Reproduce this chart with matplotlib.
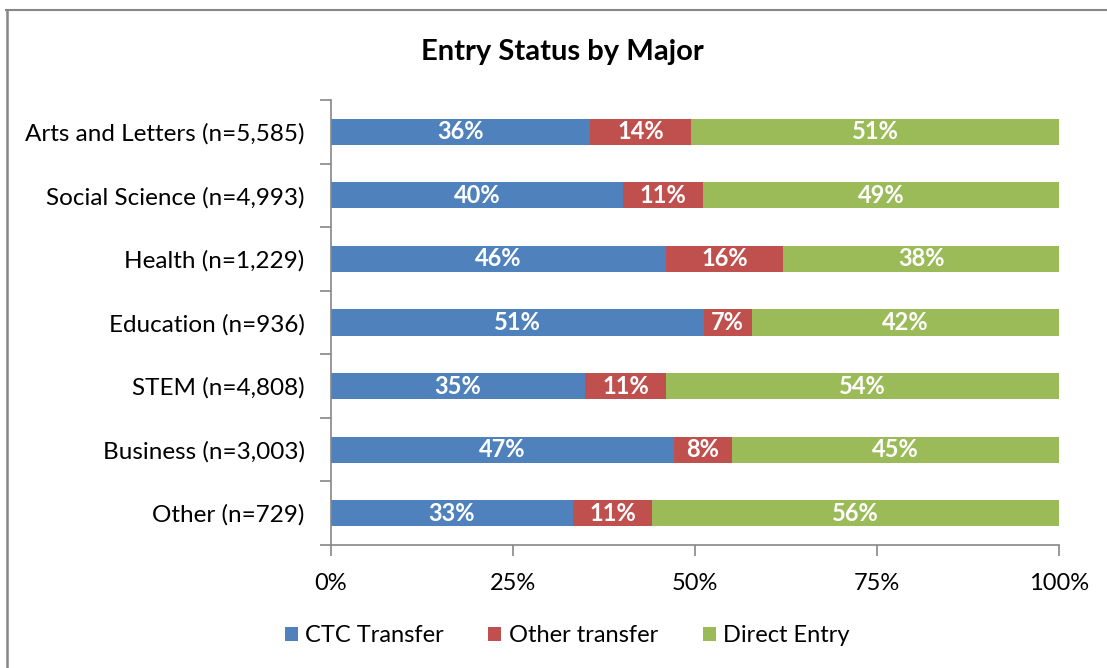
import numpy as np
import matplotlib
matplotlib.use("Agg")
from matplotlib import pyplot as plt
from matplotlib.lines import Line2D

plt.rcParams['font.family'] = ['Lato', 'DejaVu Sans']

majors = ['Arts and Letters (n=5,585)', 'Social Science (n=4,993)', 'Health (n=1,229)',
          'Education (n=936)', 'STEM (n=4,808)', 'Business (n=3,003)', 'Other (n=729)']
ctc = [35.6, 40.1, 46.0, 51.2, 34.9, 47.1, 33.2]
other = [13.9, 11.0, 16.1, 6.6, 11.1, 8.0, 10.9]
direct = [50.5, 48.9, 37.9, 42.2, 54.0, 44.9, 55.9]
labels_ctc = ['36%', '40%', '46%', '51%', '35%', '47%', '33%']
labels_other = ['14%', '11%', '16%', '7%', '11%', '8%', '11%']
labels_direct = ['51%', '49%', '38%', '42%', '54%', '45%', '56%']

colors = ['#4f81bd', '#c0504d', '#9bbb59']
names = ['CTC Transfer', 'Other transfer', 'Direct Entry']

fig = plt.figure(figsize=(11.07, 6.68), dpi=100)
ax = fig.add_axes([331/1107, 1-545/668, 728/1107, 445/668])

y = np.arange(len(majors))
left = np.zeros(len(majors))
series = [ctc, other, direct]
texts = [labels_ctc, labels_other, labels_direct]
for vals, lab, col, nm in zip(series, texts, colors, names):
    vals = np.array(vals)
    bars = ax.barh(y, vals, left=left, height=0.41, color=col, label=nm)
    for b, t in zip(bars, lab):
        ax.text(b.get_x() + b.get_width()/2, b.get_y() + b.get_height()/2, t,
                ha='center', va='center', color='white', fontsize=17, fontweight='bold')
    left = left + vals

ax.set_xlim(0, 100)
ax.set_ylim(len(majors) - 0.5, -0.5)
ax.set_xticks([0, 25, 50, 75, 100])
ax.set_xticklabels(['0%', '25%', '50%', '75%', '100%'])
ax.set_yticks(y)
ax.set_yticklabels(majors)
ax.set_yticks(np.arange(-0.5, len(majors), 1), minor=True)
ax.tick_params(axis='y', which='major', length=0, pad=19, labelsize=17.5)
ax.tick_params(axis='y', which='minor', length=8, color='#868686', width=1.2)
ax.tick_params(axis='x', length=8, color='#868686', width=1.2, pad=12, labelsize=17)

for s in ['top', 'right']:
    ax.spines[s].set_visible(False)
for s in ['left', 'bottom']:
    ax.spines[s].set_color('#868686')
    ax.spines[s].set_linewidth(1.2)

fig.text(562/1107, 1-52/668, 'Entry Status by Major', ha='center', va='center',
         fontsize=21, fontweight='bold')

fig.legend(loc='center', bbox_to_anchor=(567/1107, 1-636/668), ncol=3, frameon=False,
           fontsize=17, handlelength=0.55, handleheight=0.55, handletextpad=0.3, columnspacing=1.9)

fig.add_artist(Line2D([6/1107, 1], [1-10/668, 1-10/668], color='#868686', lw=1.5))
fig.add_artist(Line2D([7/1107, 7/1107], [0, 1-10/668], color='#868686', lw=1.8))

fig.savefig('out.png', dpi=100)
